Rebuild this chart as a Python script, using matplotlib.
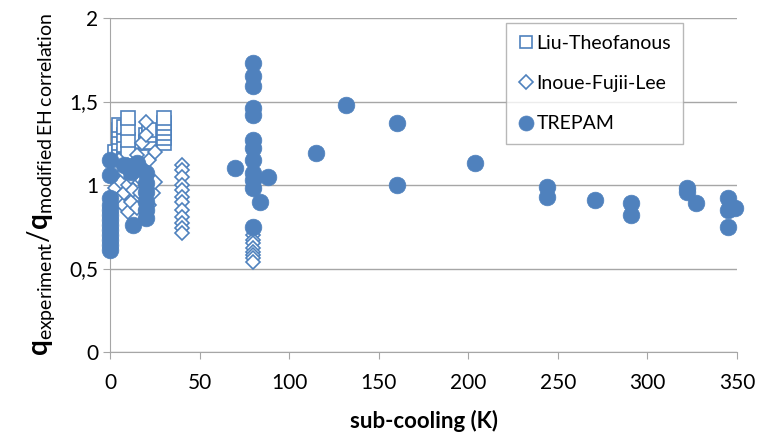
import matplotlib
matplotlib.use("Agg")
import matplotlib.pyplot as plt

# Liu-Theofanous (open squares)
liu_x = [3, 5, 5, 5, 5, 5, 5, 5, 8, 8, 8, 8, 8, 10, 10, 10, 10, 10, 10,
         20, 20, 20, 22, 22, 22, 30, 30, 30, 30, 30, 30]
liu_y = [1.20, 1.13, 1.17, 1.21, 1.25, 1.29, 1.33, 1.36, 1.15, 1.18, 1.24, 1.30, 1.35, 1.12, 1.15, 1.20, 1.27, 1.34, 1.40,
         1.20, 1.25, 1.30, 1.26, 1.30, 1.33, 1.25, 1.28, 1.31, 1.34, 1.37, 1.40]

# Inoue-Fujii-Lee (open diamonds)
ifl_x = [2, 3, 4, 5, 5, 6, 7, 8, 8, 10, 10, 10, 12, 12, 13, 15, 15, 15, 17, 18, 18,
         20, 20, 20, 20, 20, 20, 20, 22, 22, 24, 25, 25,
         40, 40, 40, 40, 40, 40, 40, 40, 40, 40, 40, 40,
         80, 80, 80, 80, 80, 80, 80, 80]
ifl_y = [1.05, 0.98, 1.10, 0.92, 1.15, 1.02, 0.88, 1.08, 0.95, 0.84, 1.00, 1.12, 0.90, 1.05, 0.97, 0.86, 1.10, 1.18, 0.95, 1.03, 1.25,
         0.80, 0.85, 0.92, 1.00, 1.08, 1.30, 1.38, 0.88, 1.15, 0.95, 1.02, 1.20,
         1.12, 1.09, 1.05, 1.00, 0.97, 0.93, 0.90, 0.85, 0.81, 0.77, 0.74, 0.71,
         0.70, 0.67, 0.65, 0.62, 0.60, 0.58, 0.56, 0.54]

# TREPAM (filled circles)
tre_x = [0, 0, 0, 0, 0, 0, 0, 0, 0, 0, 0, 0, 0,
         8, 12, 13, 15, 20, 20, 20, 20, 20, 20,
         70, 80, 80, 80, 80, 80, 80, 80, 80, 80, 80, 80, 80, 84, 88,
         115, 132, 160, 160, 204, 244, 244, 271, 291, 291, 322, 322, 327,
         345, 345, 345, 349]
tre_y = [0.61, 0.64, 0.67, 0.70, 0.73, 0.76, 0.79, 0.82, 0.85, 0.88, 0.92, 1.06, 1.15,
         1.12, 1.08, 0.76, 1.13, 1.07, 1.01, 0.96, 0.90, 0.85, 0.80,
         1.10, 1.73, 1.65, 1.59, 1.46, 1.42, 1.27, 1.22, 1.15, 1.07, 1.03, 0.98, 0.75, 0.90, 1.05,
         1.19, 1.48, 1.37, 1.00, 1.13, 0.99, 0.93, 0.91, 0.89, 0.82, 0.98, 0.96, 0.89,
         0.925, 0.85, 0.75, 0.86]

blue = "#4F81BD"
grid_c = "#A6A6A6"

plt.rcParams["font.family"] = ["Lato", "DejaVu Sans"]
plt.rcParams["mathtext.fontset"] = "custom"
plt.rcParams["mathtext.rm"] = "Lato"
plt.rcParams["mathtext.bf"] = "Lato:bold"

fig = plt.figure(figsize=(7.69, 4.38), dpi=100)
ax = fig.add_axes([110 / 769, 1 - 352 / 438, 627 / 769, 334 / 438])

ax.plot(liu_x, liu_y, ls="none", marker="s", ms=10, mfc="white", mec=blue, mew=1.2,
        label="Liu-Theofanous", clip_on=False, zorder=3)
ax.plot(ifl_x, ifl_y, ls="none", marker="D", ms=7.5, mfc="white", mec=blue, mew=1.2,
        label="Inoue-Fujii-Lee", clip_on=False, zorder=3)
ax.plot(tre_x, tre_y, ls="none", marker="o", ms=12, mfc=blue, mec=blue, mew=0.5,
        label="TREPAM", clip_on=False, zorder=4)

ax.set_xlim(0, 350)
ax.set_ylim(0, 2)
ax.set_xticks(range(0, 351, 50))
ax.set_yticks([0, 0.5, 1, 1.5, 2])
ax.set_yticklabels(["0", "0,5", "1", "1,5", "2"])
ax.yaxis.grid(True, color=grid_c, lw=1.0)
ax.set_axisbelow(True)
for s in ["top", "right"]:
    ax.spines[s].set_visible(False)
for s in ["left", "bottom"]:
    ax.spines[s].set_color(grid_c)
ax.tick_params(axis="both", colors=grid_c, labelcolor="black", labelsize=15, length=5, direction="out")
ax.tick_params(axis="x", pad=10)

ax.set_xlabel("sub-cooling (K)", fontsize=16, fontweight="bold", labelpad=12)
ax.set_ylabel(r"$\mathbf{q}_{\mathrm{experiment}}/\mathbf{q}_{\mathrm{modified\,EH\,correlation}}$",
              fontsize=20, labelpad=8)

leg = ax.legend(loc="upper left", bbox_to_anchor=(0.632, 0.985), fontsize=14, frameon=True,
                fancybox=False, edgecolor="#A6A6A6", labelspacing=1.2, handletextpad=0.15,
                handlelength=0.8, borderpad=0.6, borderaxespad=0.0, markerscale=0.9)
leg.get_frame().set_linewidth(1.0)

fig.savefig("out.png", dpi=100)
